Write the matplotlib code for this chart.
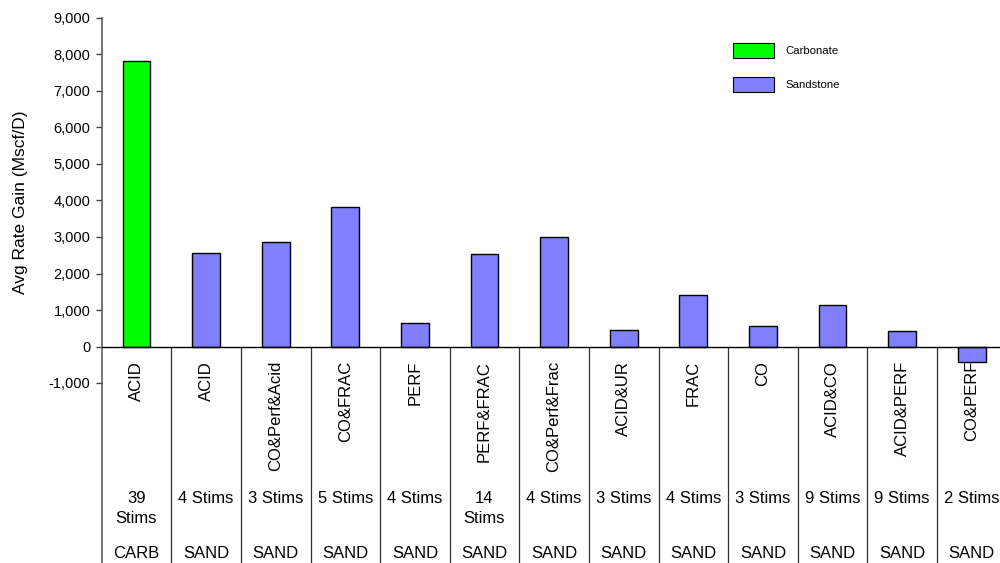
import matplotlib
matplotlib.use("Agg")
import matplotlib.pyplot as plt
from matplotlib.patches import Patch
from matplotlib.ticker import FuncFormatter
from matplotlib.transforms import blended_transform_factory

plt.rcParams['font.family'] = ['Liberation Sans', 'DejaVu Sans']

treatments = ['ACID', 'ACID', 'CO&Perf&Acid', 'CO&FRAC', 'PERF', 'PERF&FRAC',
              'CO&Perf&Frac', 'ACID&UR', 'FRAC', 'CO', 'ACID&CO', 'ACID&PERF', 'CO&PERF']
stims = ['39\nStims', '4 Stims', '3 Stims', '5 Stims', '4 Stims', '14\nStims', '4 Stims',
         '3 Stims', '4 Stims', '3 Stims', '9 Stims', '9 Stims', '2 Stims']
formation = ['CARB'] + ['SAND'] * 12
rate_gain = [7830, 2560, 2870, 3830, 650, 2530, 2990, 460, 1420, 560, 1140, 420, -430]

colors = {'CARB': '#00FF00', 'SAND': '#8080FF'}
W, H = 1000, 563

fig = plt.figure(figsize=(W / 100, H / 100), dpi=100)
ax = fig.add_axes([101.7 / W, 1 - 383 / H, 904.8 / W, (383 - 18) / H])

x = list(range(len(rate_gain)))
ax.bar(x, rate_gain, width=0.40, color=[colors[f] for f in formation],
       edgecolor='black', linewidth=1.0, zorder=3)

ax.set_xlim(-0.5, len(x) - 0.5)
ax.set_ylim(-1000, 9000)
ax.set_yticks(range(-1000, 9001, 1000))
ax.yaxis.set_major_formatter(FuncFormatter(lambda v, p: f"{int(v):,}"))
ax.tick_params(axis='y', labelsize=10.5, length=4, width=1, color='#404040', pad=4)
ax.set_xticks([])
for s in ['top', 'right', 'bottom']:
    ax.spines[s].set_visible(False)
ax.spines['left'].set_color('#606060')
ax.spines['left'].set_linewidth(1.2)
ax.axhline(0, color='black', linewidth=1.0, zorder=4)

ax.set_ylabel('Avg Rate Gain (Mscf/D)', fontsize=12.5)
ax.yaxis.set_label_coords(28 / W, 1 - 202 / H, transform=fig.transFigure)

# category label grid below the axis
tr = blended_transform_factory(ax.transData, fig.transFigure)
y_zero = 1 - 347 / H
ax.plot([-0.5, -0.5], [1 - 383 / H, 0], transform=tr, color='#606060',
        linewidth=1.2, clip_on=False)
for i in range(len(x)):
    ax.plot([i + 0.5, i + 0.5], [y_zero, 0], transform=tr, color='#303030',
            linewidth=0.9, clip_on=False)
    ax.text(i, 1 - 361 / H, treatments[i], rotation=90, ha='center', va='top',
            fontsize=12, transform=tr)
    ax.text(i, 1 - 491 / H, stims[i], ha='center', va='top', fontsize=12,
            linespacing=1.4, transform=tr)
    ax.text(i, 1 - 554 / H, formation[i], ha='center', va='center', fontsize=12,
            transform=tr)

handles = [Patch(facecolor=colors['CARB'], edgecolor='black', linewidth=0.8, label='Carbonate'),
           Patch(facecolor=colors['SAND'], edgecolor='black', linewidth=0.8, label='Sandstone')]
fig.legend(handles=handles, loc='upper left', bbox_to_anchor=(733 / W, 1 - 43 / H),
           frameon=False, fontsize=8.2, handlelength=3.6, handleheight=1.65,
           labelspacing=1.65, handletextpad=1.0, borderpad=0, borderaxespad=0)

fig.savefig('out.png', dpi=100)
